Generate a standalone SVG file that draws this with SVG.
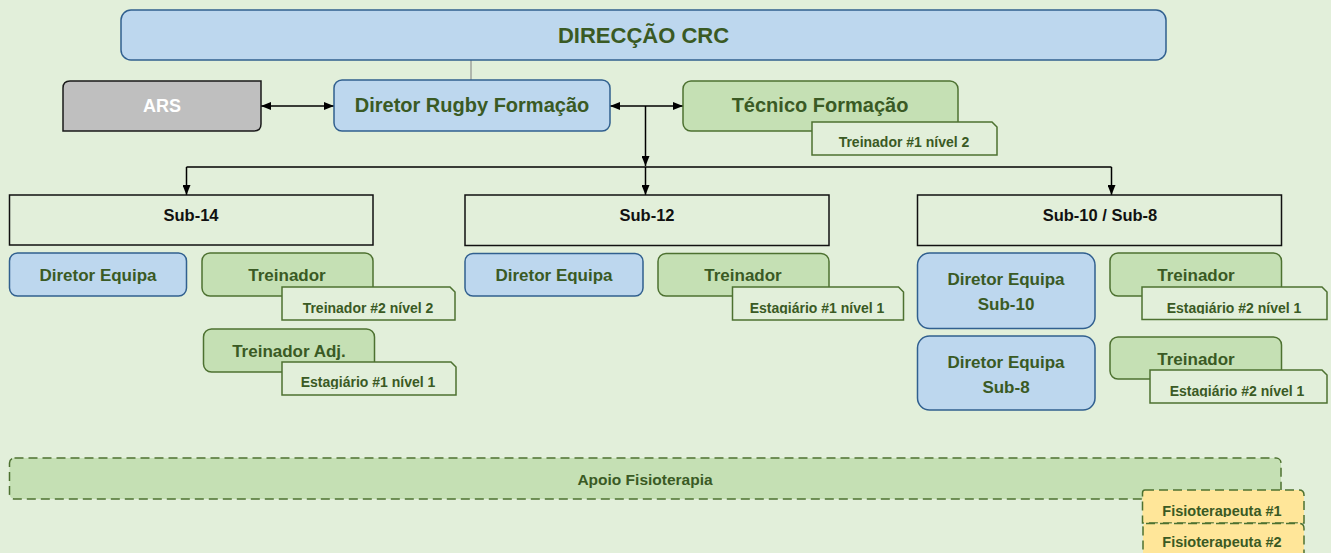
<svg xmlns="http://www.w3.org/2000/svg" width="1331" height="553" viewBox="0 0 1331 553">
<defs>
<style>
text{font-family:"Liberation Sans",Arial,sans-serif;font-weight:bold;text-anchor:middle;fill:#3a5a24}
.blue{fill:#bdd7ee;stroke:#31608f;stroke-width:1.5}
.green{fill:#c5e0b4;stroke:#4d7130;stroke-width:1.5}
.lbl{fill:#e2efda;stroke:#4d7130;stroke-width:1.5}
.sub{fill:none;stroke:#111;stroke-width:1.5}
.dash{stroke:#4d7130;stroke-width:1.5;stroke-dasharray:9 5}
.con{stroke:#000;stroke-width:1.5;fill:none}
.t20{font-size:20px}
.t17{font-size:17px}
.t14{font-size:14px}
.sb{font-size:16.5px;fill:#111}
</style>
<marker id="ah" viewBox="0 0 10 8" refX="10" refY="4" markerWidth="10" markerHeight="8" markerUnits="userSpaceOnUse" orient="auto-start-reverse">
<path d="M0,0 L10,4 L0,8 z" fill="#000"/>
</marker>
<clipPath id="c1"><rect x="812" y="122" width="186" height="27"/></clipPath>
<clipPath id="c2"><rect x="282" y="287" width="174" height="28"/></clipPath>
<clipPath id="c3"><rect x="282" y="362" width="175" height="27"/></clipPath>
<clipPath id="c4"><rect x="732" y="287" width="172" height="27"/></clipPath>
<clipPath id="c5"><rect x="1142" y="287" width="186" height="27"/></clipPath>
<clipPath id="c6"><rect x="1150" y="370" width="178" height="27"/></clipPath>
<clipPath id="c7"><rect x="1142" y="490" width="163" height="27"/></clipPath>
<clipPath id="c8"><rect x="1143" y="523" width="163" height="25.5"/></clipPath>
</defs>
<rect width="1331" height="553" fill="#e2efda"/>

<g id="connectors">
<line x1="471" y1="60" x2="471" y2="80" stroke="#7f7f7f" stroke-width="1"/>
<line class="con" x1="261" y1="106" x2="334" y2="106" marker-start="url(#ah)" marker-end="url(#ah)"/>
<line class="con" x1="610" y1="106" x2="683" y2="106" marker-start="url(#ah)" marker-end="url(#ah)"/>
<line class="con" x1="645.5" y1="106" x2="645.5" y2="166" marker-end="url(#ah)"/>
<line class="con" x1="186.5" y1="167" x2="1111.5" y2="167"/>
<line class="con" x1="186.5" y1="167" x2="186.5" y2="195" marker-end="url(#ah)"/>
<line class="con" x1="645.5" y1="167" x2="645.5" y2="195" marker-end="url(#ah)"/>
<line class="con" x1="1111.5" y1="167" x2="1111.5" y2="195" marker-end="url(#ah)"/>
</g>

<g id="direccao">
<rect class="blue" x="121" y="10" width="1045" height="50" rx="10"/>
<text x="643.5" y="43" style="font-size:22px">DIRECÇÃO CRC</text>
</g>

<g id="ars">
<path d="M70,81 H261 V124 Q261,131 254,131 H63 V88 Q63,81 70,81 Z" fill="#bfbfbf" stroke="#1a1a1a" stroke-width="1.5"/>
<text x="162" y="112" style="font-size:18px;fill:#fff">ARS</text>
</g>

<g id="diretor-rugby">
<rect class="blue" x="334" y="80" width="276" height="51" rx="8"/>
<text class="t20" x="472" y="112">Diretor Rugby Formação</text>
</g>

<g id="tecnico">
<rect class="green" x="683" y="81" width="275" height="50" rx="8"/>
<text class="t20" x="820" y="112">Técnico Formação</text>
<path class="lbl" d="M812,122 H992 L997,127 V155 H812 Z"/>
<text class="t14" x="904" y="147" clip-path="url(#c1)">Treinador #1 nível 2</text>
</g>

<g id="sub14">
<rect class="sub" x="9.5" y="195" width="363.5" height="50"/>
<text class="sb" x="191" y="221">Sub-14</text>
</g>
<g id="sub12">
<rect class="sub" x="465" y="195" width="364" height="50.5"/>
<text class="sb" x="647" y="221">Sub-12</text>
</g>
<g id="sub10-8">
<rect class="sub" x="917.5" y="195" width="364" height="50.5"/>
<text class="sb" x="1100" y="221">Sub-10 / Sub-8</text>
</g>

<g id="sub14-diretor">
<rect class="blue" x="9.5" y="253" width="177" height="43" rx="8"/>
<text class="t17" x="98" y="281">Diretor Equipa</text>
</g>
<g id="sub14-treinador">
<rect class="green" x="202" y="253" width="171" height="43" rx="8"/>
<text class="t17" x="287" y="281">Treinador</text>
<path class="lbl" d="M282,287 H450 L455,292 V320 H282 Z"/>
<text class="t14" x="368" y="313" clip-path="url(#c2)">Treinador #2 nível 2</text>
</g>
<g id="sub14-adj">
<rect class="green" x="203.5" y="329" width="171" height="43" rx="8"/>
<text class="t17" x="289" y="357">Treinador Adj.</text>
<path class="lbl" d="M282,362 H451 L456,367 V395 H282 Z"/>
<text class="t14" x="368" y="387" clip-path="url(#c3)">Estagiário #1 nível 1</text>
</g>

<g id="sub12-diretor">
<rect class="blue" x="465" y="253.5" width="178" height="42.5" rx="8"/>
<text class="t17" x="554" y="281">Diretor Equipa</text>
</g>
<g id="sub12-treinador">
<rect class="green" x="658" y="253.5" width="171" height="42.5" rx="8"/>
<text class="t17" x="743" y="281">Treinador</text>
<path class="lbl" d="M732.5,287 H898.5 L903.5,292 V320 H732.5 Z"/>
<text class="t14" x="817" y="313" clip-path="url(#c4)">Estagiário #1 nível 1</text>
</g>

<g id="sub10-diretor">
<rect class="blue" x="917.5" y="253" width="177.5" height="75.5" rx="12"/>
<text class="t17" x="1006" y="285">Diretor Equipa</text>
<text class="t17" x="1006" y="310">Sub-10</text>
</g>
<g id="sub8-diretor">
<rect class="blue" x="917.5" y="336" width="177.5" height="74" rx="12"/>
<text class="t17" x="1006" y="368">Diretor Equipa</text>
<text class="t17" x="1006" y="393">Sub-8</text>
</g>
<g id="sub10-treinador">
<rect class="green" x="1110" y="253" width="171.5" height="43" rx="8"/>
<text class="t17" x="1196" y="281">Treinador</text>
<path class="lbl" d="M1142,287 H1322 L1327,292 V319.5 H1142 Z"/>
<text class="t14" x="1234" y="312.5" clip-path="url(#c5)">Estagiário #2 nível 1</text>
</g>
<g id="sub8-treinador">
<rect class="green" x="1110" y="337" width="171.5" height="42" rx="8"/>
<text class="t17" x="1196" y="364.5">Treinador</text>
<path class="lbl" d="M1150,370 H1322 L1327,375 V403 H1150 Z"/>
<text class="t14" x="1237" y="395.5" clip-path="url(#c6)">Estagiário #2 nível 1</text>
</g>

<g id="apoio">
<rect class="dash" x="9.5" y="458" width="1271.5" height="41" rx="5" fill="#c5e0b4"/>
<text x="645" y="484.5" style="font-size:15.5px">Apoio Fisioterapia</text>
</g>
<g id="fisio1">
<path class="dash" d="M1145,490 H1299 Q1304,490 1304,495 V523 H1142.5 V493 Q1142.5,490 1145,490 Z" fill="#ffe699"/>
<text x="1222" y="515.5" style="font-size:14.5px" clip-path="url(#c7)">Fisioterapeuta #1</text>
</g>
<g id="fisio2">
<path class="dash" d="M1146,523.5 H1299 Q1304,523.5 1304,528.5 V560 H1143 V526.5 Q1143,523.5 1146,523.5 Z" fill="#ffe699"/>
<text x="1222" y="546.5" style="font-size:14.5px" clip-path="url(#c8)">Fisioterapeuta #2</text>
</g>
</svg>
